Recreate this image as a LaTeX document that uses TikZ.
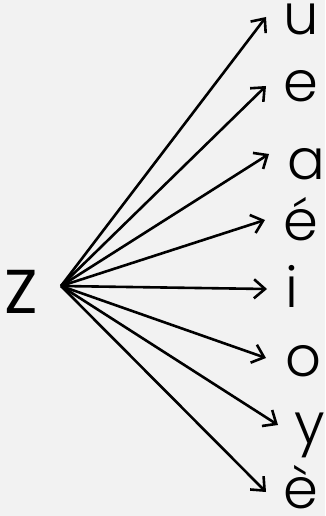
\documentclass[tikz,border=0pt]{standalone}
\usepackage{fontspec}
\setmainfont{Poppins Light}
\newfontfamily\zfont{Poppins}
\usetikzlibrary{arrows.meta}
\definecolor{bg}{HTML}{F2F2F2}
\tikzset{
  lbl/.style={anchor=base west, inner sep=0pt, font=\fontsize{56}{58}\selectfont},
  arr/.style={line width=2.6pt, -{Straight Barb[length=11pt,width=19pt]}}
}
\begin{document}
\begin{tikzpicture}[x=1pt,y=-1pt]
\fill[bg] (0,0) rectangle (325,516);
\useasboundingbox (0,0) rectangle (325,516);
\node[lbl, font=\zfont\fontsize{62}{64}\selectfont] (z) at (4,313) {Z};
\coordinate (s) at (61,286);
\node[lbl] (u) at (283,35) {u};
\node[lbl] (e) at (283,102) {e};
\node[lbl] (a) at (287,179) {a};
\node[lbl] (e1) at (283,240) {é};
\node[lbl] (i) at (285,307) {i};
\node[lbl] (o) at (285,376) {o};
\node[lbl] (y) at (294,443) {y};
\node[lbl] (e2) at (283,508) {è};
\coordinate (tu) at (266,17);
\coordinate (te) at (266,86);
\coordinate (ta) at (269,154);
\coordinate (te1) at (265,220);
\coordinate (ti) at (267,289);
\coordinate (to) at (266,358);
\coordinate (ty) at (278,425);
\coordinate (te2) at (266,492);
\foreach \t in {tu,te,ta,te1,ti,to,ty,te2} \draw[arr] (s) -- (\t);
\end{tikzpicture}
\end{document}
